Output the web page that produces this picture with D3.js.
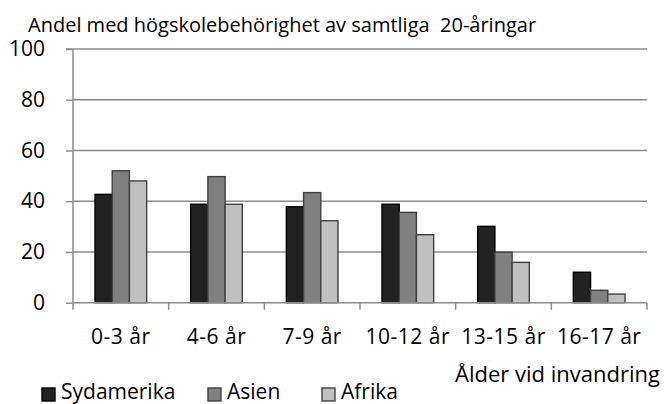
<!DOCTYPE html>
<html><head><meta charset="utf-8">
<script src="https://cdn.jsdelivr.net/npm/d3@7"></script>
<style>body{margin:0;background:#fff}svg{display:block}text{font-family:"Open Sans",Lato,sans-serif;fill:#000;white-space:pre}</style>
</head><body><svg id="c" width="664" height="404"></svg>
<script>
const categories = ["0-3 år","4-6 år","7-9 år","10-12 år","13-15 år","16-17 år"];
const seriesNames = ["Sydamerika","Asien","Afrika"];
const sydamerika = [42.7, 38.8, 37.8, 38.8, 30.1, 12.0];
const asien = [52.0, 49.7, 43.4, 35.6, 19.9, 4.9];
const afrika = [48.0, 38.8, 32.3, 26.8, 15.9, 3.4];
const yTicks = [0,20,40,60,80,100];
const title = "Andel med högskolebehörighet av samtliga  20-åringar";
const xTitle = "Ålder vid invandring";

const series = [sydamerika, asien, afrika];
const fills = ["#222222","#808080","#c0c0c0"];
const strokes = ["#000000","#404040","#404040"];
const FS = "21px";

const svg = d3.select("#c");
const L = 73, R = 647, T = 49, B = 302.7;
const x = d3.scaleBand().domain(categories).range([L,R]).paddingInner(0.46).paddingOuter(0.23);
const xs = d3.scaleBand().domain(seriesNames).range([0,x.bandwidth()]);
const y = d3.scaleLinear().domain([0,100]).range([B,T]);

// gridlines
svg.append("g").selectAll("line").data(yTicks.filter(d=>d>0)).join("line")
  .attr("x1",L).attr("x2",R).attr("y1",d=>y(d)).attr("y2",d=>y(d))
  .attr("stroke","#8c8c8c").attr("stroke-width",1.5);

// bars
const g = svg.append("g");
series.forEach((vals,si)=>{
  g.append("g").selectAll("rect").data(vals).join("rect")
    .attr("x",(d,i)=>x(categories[i])+xs(seriesNames[si]))
    .attr("width",xs.bandwidth())
    .attr("y",d=>y(d)).attr("height",d=>B-y(d))
    .attr("fill",fills[si]).attr("stroke",strokes[si]).attr("stroke-width",1.4);
});

// y axis
const ya = d3.axisLeft(y).tickValues(yTicks).tickSize(7).tickPadding(21);
const yg = svg.append("g").attr("transform",`translate(${L},0)`).call(ya);
yg.select(".domain").attr("stroke","#8c8c8c").attr("stroke-width",1.5).attr("d",`M-7,${T}H0V${B}`);
yg.selectAll(".tick line").attr("stroke","#8c8c8c").attr("stroke-width",1.5);
yg.selectAll(".tick text").style("font-size",FS).style("font-family","'Open Sans',sans-serif").attr("fill","#000");

// x axis
const xg = svg.append("g").attr("transform",`translate(0,${B})`);
xg.append("line").attr("x1",L).attr("x2",R).attr("y1",0).attr("y2",0).attr("stroke","#8c8c8c").attr("stroke-width",1.5);
const bounds = categories.map(c=>x(c)-x.step()*x.paddingInner()/2).concat([R]);
xg.selectAll("line.t").data(bounds).join("line").attr("class","t")
  .attr("x1",d=>d).attr("x2",d=>d).attr("y1",0).attr("y2",7).attr("stroke","#8c8c8c").attr("stroke-width",1.5);
xg.selectAll("text").data(categories).join("text")
  .attr("x",d=>x(d)+x.bandwidth()/2).attr("y",41.5).attr("text-anchor","middle")
  .style("font-size",FS).style("letter-spacing","0.5px").text(d=>d);

svg.append("text").attr("x",28).attr("y",32).style("font-size","20px").text(title);
svg.append("text").attr("x",660).attr("y",382).attr("text-anchor","end").style("font-size","22px").text(xTitle);

// legend
const legX = [42, 208, 322];
const lg = svg.append("g");
seriesNames.forEach((n,i)=>{
  lg.append("rect").attr("x",legX[i]).attr("y",388).attr("width",13).attr("height",13)
    .attr("fill",fills[i]).attr("stroke",strokes[i]).attr("stroke-width",1.4);
  lg.append("text").attr("x",legX[i]+19).attr("y",399).style("font-size",FS).text(n);
});
</script></body></html>
